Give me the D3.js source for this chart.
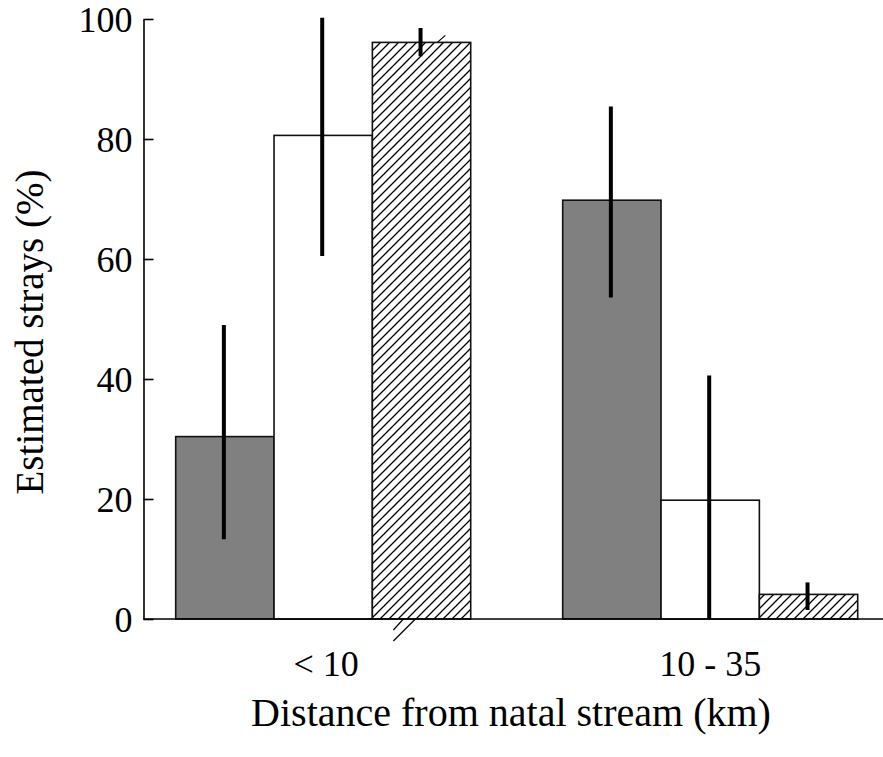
<!DOCTYPE html>
<html>
<head>
<meta charset="utf-8">
<script src="https://cdn.jsdelivr.net/npm/d3@7"></script>
<style>
  html, body { margin: 0; padding: 0; background: #fff; }
  svg { display: block; }
  text { font-family: "Liberation Serif", "Times New Roman", serif; fill: #000; }
</style>
</head>
<body>
<svg id="chart" width="883" height="757"></svg>
<script>
const groups = ["< 10", "10 - 35"];
const series = ["gray", "open", "hatched"];
const values = {
  gray:    [30.4, 69.8],
  open:    [80.6, 19.8],
  hatched: [96.1, 4.1]
};
const errLow = {
  gray:    [13.3, 53.6],
  open:    [60.5, 0],
  hatched: [93.8, 1.5]
};
const errHigh = {
  gray:    [49.0, 85.4],
  open:    [100.2, 40.6],
  hatched: [98.5, 6.1]
};
const yTicks = [0, 20, 40, 60, 80, 100];

const svg = d3.select("#chart");
const W = 883, H = 757;
const axisX = 143.5, baseY = 619, topY = 19;

const y = d3.scaleLinear().domain([0, 100]).range([baseY, topY]);
const x0 = d3.scaleBand().domain(groups).range([175.7, 857.7]).paddingInner(0.2377).paddingOuter(0);
const x1 = d3.scaleBand().domain(series).range([0, x0.bandwidth()]).padding(0);

// hatch pattern
const defs = svg.append("defs");
const pat = defs.append("pattern")
  .attr("id", "hatch").attr("patternUnits", "userSpaceOnUse")
  .attr("width", 9).attr("height", 9);
pat.append("rect").attr("width", 9).attr("height", 9).attr("fill", "#fff");
pat.append("path")
  .attr("d", "M0,9 L9,0 M-2,2 L2,-2 M7,11 L11,7")
  .attr("stroke", "#000").attr("stroke-width", 1.3);

const fills = { gray: "#808080", open: "#ffffff", hatched: "url(#hatch)" };

// bars
const rows = [];
groups.forEach((g, gi) => series.forEach(s => rows.push({ g, s, v: values[s][gi], lo: errLow[s][gi], hi: errHigh[s][gi] })));

svg.append("g").selectAll("rect").data(rows).join("rect")
  .attr("x", d => x0(d.g) + x1(d.s))
  .attr("y", d => y(d.v))
  .attr("width", x1.bandwidth())
  .attr("height", d => y(0) - y(d.v))
  .attr("fill", d => fills[d.s])
  .attr("stroke", "#111")
  .attr("stroke-width", 1.6);

// small hatch overflow artifacts near the first hatched bar
const hx = x0(groups[0]) + x1("hatched");
svg.append("line").attr("x1", hx + 65).attr("y1", y(values.hatched[0])).attr("x2", hx + 73).attr("y2", y(values.hatched[0]) - 7)
  .attr("stroke", "#000").attr("stroke-width", 1.2);
svg.append("line").attr("x1", hx + 43).attr("y1", y(0)).attr("x2", hx + 21).attr("y2", y(0) + 22)
  .attr("stroke", "#000").attr("stroke-width", 1.2);
svg.append("line").attr("x1", hx + 31).attr("y1", y(0)).attr("x2", hx + 21).attr("y2", y(0) + 11)
  .attr("stroke", "#000").attr("stroke-width", 1.2);

// error bars
svg.append("g").selectAll("line").data(rows).join("line")
  .attr("x1", d => x0(d.g) + x1(d.s) + x1.bandwidth() / 2 - 1)
  .attr("x2", d => x0(d.g) + x1(d.s) + x1.bandwidth() / 2 - 1)
  .attr("y1", d => y(d.lo))
  .attr("y2", d => y(d.hi))
  .attr("stroke", "#000")
  .attr("stroke-width", 4);

// axes
const yAxis = d3.axisRight(y).tickValues(yTicks).tickSize(10).tickSizeOuter(0).tickFormat(d3.format("d"));
const gy = svg.append("g").attr("transform", `translate(${axisX},0)`).call(yAxis);
gy.select(".domain").attr("stroke", "#000").attr("stroke-width", 1.6);
gy.selectAll(".tick line").attr("stroke", "#000").attr("stroke-width", 1.6);
gy.selectAll(".tick text")
  .attr("x", -11).attr("text-anchor", "end").attr("dy", "0.36em")
  .style("font-family", "Liberation Serif, Times New Roman, serif")
  .style("font-size", "36px").attr("fill", "#000");

svg.append("line").attr("x1", axisX).attr("x2", W).attr("y1", y(0)).attr("y2", y(0))
  .attr("stroke", "#000").attr("stroke-width", 1.6);

// x labels
svg.append("g").selectAll("text").data(groups).join("text")
  .attr("x", d => x0(d) + x0.bandwidth() / 2 + (d === groups[0] ? 3 : 0))
  .attr("y", 676)
  .attr("text-anchor", "middle")
  .style("font-size", "36px")
  .text(d => d);

// axis titles
svg.append("text")
  .attr("x", 511).attr("y", 726)
  .attr("text-anchor", "middle")
  .style("font-size", "40px")
  .text("Distance from natal stream (km)");

svg.append("text")
  .attr("transform", "translate(43,332) rotate(-90)")
  .attr("text-anchor", "middle")
  .style("font-size", "39px")
  .text("Estimated strays (%)");
</script>
</body>
</html>
